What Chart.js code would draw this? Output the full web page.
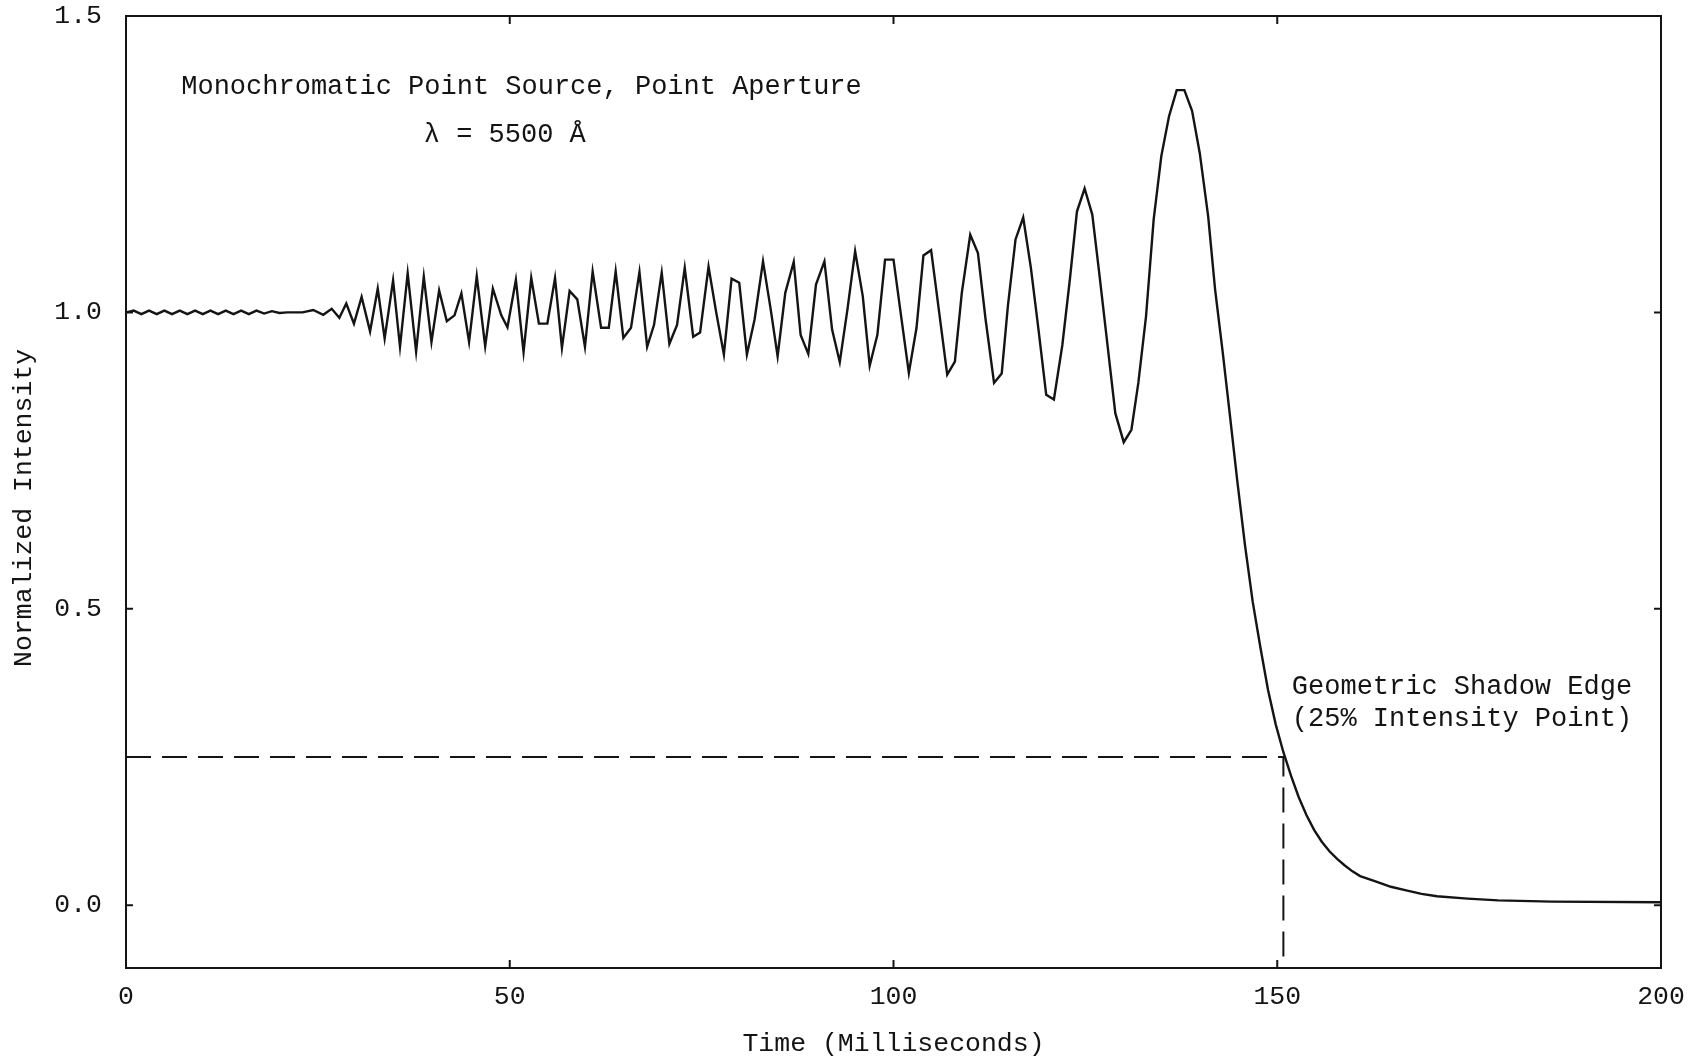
<!DOCTYPE html>
<html>
<head>
<meta charset="utf-8">
<title>Normalized Intensity vs Time</title>
<script src="https://cdn.jsdelivr.net/npm/chart.js@4.4.1/dist/chart.umd.min.js"></script>
<style>
    html, body { margin: 0; padding: 0; background: #fff; }
    #wrap { width: 1691px; height: 1061px; position: relative; }
</style>
</head>
<body>
<div id="wrap"><canvas id="chart"></canvas></div>
<script>
// small ripple before the fringes start (ms, normalized intensity)
var rippleTime = [0, 1, 2, 3, 4, 5, 6, 7, 8, 9, 10, 11, 12, 13, 14, 15, 16, 17, 18, 19, 20, 21, 22, 23];
var rippleIntensity = [1.000, 1.003, 0.997, 1.003, 0.997, 1.003, 0.997, 1.003, 0.997, 1.003, 0.997, 1.003,
    0.997, 1.003, 0.997, 1.003, 0.997, 1.003, 0.998, 1.002, 0.999, 1.000, 1.000, 1.000];

// fringe region
var fringeTime = [24.4, 25.7, 26.8, 27.8, 28.7, 29.7, 30.7, 31.8, 32.8, 33.7, 34.8, 35.7, 36.7, 37.8, 38.8,
    39.8, 40.8, 41.8, 42.8, 43.7, 44.7, 45.7, 46.8, 47.8, 48.9, 49.7, 50.8, 51.8, 52.8, 53.8, 54.9, 55.9,
    56.8, 57.8, 58.8, 59.8, 60.8, 61.9, 62.9, 63.8, 64.8, 65.8, 66.9, 67.9, 68.8, 69.8, 70.8, 71.8, 72.8,
    73.9, 74.8, 75.9, 76.9, 77.9, 78.9, 79.9, 80.9, 81.9, 83.0, 84.0, 84.9, 85.9, 87.0, 87.9, 88.9, 89.9,
    91.0, 92.0, 93.0, 94.0, 95.0, 96.0, 96.9, 97.9, 98.9, 100.0, 101.0, 102.0, 103.0, 103.9, 104.9, 105.9,
    107.0, 108.0, 108.9, 110.0, 111.0, 112.0, 113.1, 114.1, 114.9, 115.9, 116.9, 117.9, 118.9, 119.9, 120.9,
    122.0, 123.0, 123.9, 124.9, 125.9, 126.8, 127.9, 128.9, 130.0, 131.0, 131.9, 132.9, 133.9, 134.9, 135.9,
    136.9, 137.9, 138.9, 139.9, 141.0, 141.9, 142.9];
var fringeIntensity = [1.004, 0.996, 1.006, 0.991, 1.015, 0.981, 1.026, 0.968, 1.040, 0.956, 1.054, 0.942,
    1.066, 0.934, 1.060, 0.950, 1.037, 0.985, 0.995, 1.032, 0.950, 1.061, 0.943, 1.040, 0.995, 0.975, 1.055,
    0.933, 1.058, 0.981, 0.981, 1.058, 0.940, 1.036, 1.022, 0.942, 1.069, 0.974, 0.974, 1.069, 0.957, 0.974,
    1.068, 0.942, 0.979, 1.067, 0.947, 0.979, 1.075, 0.959, 0.966, 1.077, 1.000, 0.929, 1.057, 1.050, 0.929,
    0.988, 1.086, 1.005, 0.926, 1.033, 1.085, 0.962, 0.930, 1.047, 1.086, 0.971, 0.916, 1.005, 1.103, 1.027,
    0.910, 0.962, 1.089, 1.089, 0.993, 0.898, 0.974, 1.096, 1.105, 1.005, 0.895, 0.917, 1.033, 1.131, 1.100,
    0.988, 0.881, 0.897, 1.010, 1.123, 1.160, 1.075, 0.970, 0.861, 0.853, 0.945, 1.058, 1.170, 1.209, 1.165,
    1.067, 0.943, 0.830, 0.781, 0.802, 0.881, 0.993, 1.157, 1.264, 1.331, 1.375, 1.375, 1.340, 1.269, 1.162,
    1.039, 0.932];

// drop into the shadow
var decayTime = [143.8, 144.8, 145.8, 146.8, 147.8, 148.8, 149.8, 150.8, 151.8, 152.8, 153.8, 154.8, 155.8,
    156.8, 157.8, 158.8, 159.8, 160.8, 162.8, 164.8, 166.8, 168.8, 170.8, 174.8, 178.8, 185.8, 200];
var decayIntensity = [0.830, 0.715, 0.607, 0.512, 0.435, 0.363, 0.305, 0.258, 0.218, 0.182, 0.152, 0.127,
    0.107, 0.091, 0.078, 0.067, 0.057, 0.049, 0.040, 0.031, 0.025, 0.019, 0.015, 0.011, 0.008, 0.006, 0.005];

// geometric shadow edge (25% intensity point)
var shadowEdgeTime = 150.8;
var shadowEdgeLevel = 0.25;

var xTicks = [0, 50, 100, 150, 200];
var yTicks = [0.0, 0.5, 1.0, 1.5];
var xMin = 0, xMax = 200, yMin = -0.106, yMax = 1.5;

var ink = '#141414';
var fontFamily = '"Liberation Mono", "DejaVu Sans Mono", monospace';

var notes = [
    {text: 'Monochromatic Point Source, Point Aperture', t: 7.2, v: 1.381},
    {text: '\u03bb = 5500 \u00c5', t: 38.8, v: 1.300},
    {text: 'Geometric Shadow Edge', t: 151.9, v: 0.368},
    {text: '(25% Intensity Point)', t: 151.9, v: 0.314}
];

var time = rippleTime.concat(fringeTime, decayTime);
var intensity = rippleIntensity.concat(fringeIntensity, decayIntensity);
var curve = [];
for (var i = 0; i < time.length; i++) {
    curve.push({x: time[i], y: intensity[i]});
}
var edgeLines = [
    {x: xMin, y: shadowEdgeLevel},
    {x: shadowEdgeTime, y: shadowEdgeLevel},
    {x: shadowEdgeTime, y: yMin}
];

// box round the plot, inward ticks on all four sides, and the text notes
var framePlugin = {
    id: 'frame',
    afterDatasetsDraw: function (chart) {
        var ctx = chart.ctx;
        var a = chart.chartArea;
        var xs = chart.scales.x;
        var ys = chart.scales.y;
        ctx.save();
        ctx.strokeStyle = ink;
        ctx.lineWidth = 2;
        ctx.strokeRect(a.left, a.top, a.right - a.left, a.bottom - a.top);
        ctx.beginPath();
        xTicks.forEach(function (t) {
            var px = xs.getPixelForValue(t);
            ctx.moveTo(px, a.bottom);
            ctx.lineTo(px, a.bottom - 8);
            ctx.moveTo(px, a.top);
            ctx.lineTo(px, a.top + 8);
        });
        yTicks.forEach(function (v) {
            var py = ys.getPixelForValue(v);
            ctx.moveTo(a.left, py);
            ctx.lineTo(a.left + 7, py);
            ctx.moveTo(a.right, py);
            ctx.lineTo(a.right - 7, py);
        });
        ctx.stroke();

        ctx.fillStyle = ink;
        ctx.font = '27px ' + fontFamily;
        ctx.textAlign = 'left';
        ctx.textBaseline = 'middle';
        notes.forEach(function (n) {
            ctx.fillText(n.text, xs.getPixelForValue(n.t), ys.getPixelForValue(n.v));
        });
        ctx.restore();
    }
};

var tickFont = {family: fontFamily, size: 26.5};

new Chart(document.getElementById('chart'), {
    type: 'line',
    data: {
        datasets: [{
            data: curve,
            borderColor: ink,
            borderWidth: 2.4,
            pointRadius: 0,
            tension: 0,
            fill: false
        }, {
            data: edgeLines,
            borderColor: ink,
            borderWidth: 2,
            borderDash: [25, 11],
            pointRadius: 0,
            tension: 0,
            fill: false
        }]
    },
    options: {
        responsive: true,
        maintainAspectRatio: false,
        animation: false,
        layout: {padding: {top: 16, right: 30, left: 0, bottom: 0}},
        plugins: {legend: {display: false}, tooltip: {enabled: false}},
        scales: {
            x: {
                type: 'linear',
                min: xMin,
                max: xMax,
                grid: {display: false, drawTicks: false},
                border: {display: false},
                afterBuildTicks: function (scale) {
                    scale.ticks = xTicks.map(function (v) { return {value: v}; });
                },
                afterFit: function (scale) {
                    scale.height = 93;
                    // labels may hang past the box; do not let them shrink the plot
                    scale.paddingLeft = 0;
                    scale.paddingRight = 0;
                },
                ticks: {
                    autoSkip: false,
                    maxRotation: 0,
                    padding: 13,
                    color: ink,
                    font: tickFont,
                    callback: function (v) { return String(v); }
                },
                title: {
                    display: true,
                    text: 'Time (Milliseconds)',
                    color: ink,
                    font: {family: fontFamily, size: 26.5, lineHeight: 1.2},
                    padding: {top: 0, bottom: 1}
                }
            },
            y: {
                type: 'linear',
                min: yMin,
                max: yMax,
                grid: {display: false, drawTicks: false},
                border: {display: false},
                afterBuildTicks: function (scale) {
                    scale.ticks = yTicks.map(function (v) { return {value: v}; });
                },
                afterFit: function (scale) {
                    scale.width = 126;
                    scale.paddingTop = 0;
                    scale.paddingBottom = 0;
                },
                ticks: {
                    autoSkip: false,
                    padding: 24,
                    color: ink,
                    font: tickFont,
                    callback: function (v) { return Number(v).toFixed(1); }
                },
                title: {
                    display: true,
                    text: 'Normalized Intensity  ',
                    color: ink,
                    font: {family: fontFamily, size: 26.5, lineHeight: 1.2},
                    padding: {top: 8, bottom: 0}
                }
            }
        }
    },
    plugins: [framePlugin]
});
</script>
</body>
</html>
